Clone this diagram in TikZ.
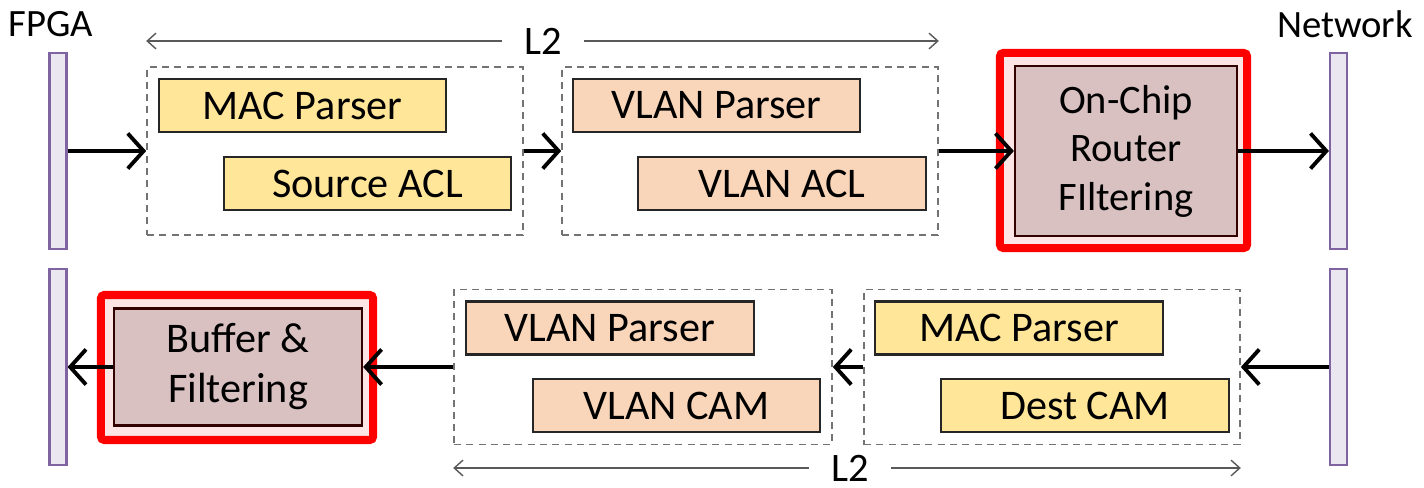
\documentclass[tikz,border=0pt]{standalone}
\usepackage{fontspec}
\setmainfont{Carlito}
\usetikzlibrary{arrows.meta}

\definecolor{macyellow}{HTML}{FFE699}
\definecolor{vlanpeach}{HTML}{F9D6BA}
\definecolor{filterrose}{HTML}{D9C1C1}
\definecolor{filterpink}{HTML}{FDE5E5}
\definecolor{portfill}{HTML}{EBE7F1}
\definecolor{portline}{HTML}{8064A2}

\begin{document}
\begin{tikzpicture}[x=0.01cm, y=-0.01cm,
    port/.style={draw=portline, fill=portfill, line width=0.6pt, minimum width=0.17cm, minimum height=1.95cm, inner sep=0pt},
    stage/.style={draw=black!85, line width=0.6pt, minimum width=2.87cm, minimum height=0.53cm, inner sep=0pt, font=\fontsize{12}{14}\selectfont},
    group/.style={draw=black!55, dash pattern=on 2pt off 1.5pt, line width=0.4pt, minimum width=3.76cm, minimum height=1.68cm, inner sep=0pt},
    guard/.style={draw=red, fill=filterpink, line width=2.3pt, rounded corners=1pt, inner sep=0pt},
    filter/.style={draw=black!80!red, fill=filterrose, line width=0.6pt, align=center, inner sep=0pt},
    flow/.style={-{Straight Barb[length=4.5pt, width=10pt]}, line width=1.1pt},
    span/.style={-{Straight Barb[length=2.5pt, width=4.5pt]}, draw=black!65, line width=0.4pt},
    every node/.style={font=\fontsize{11}{13}\selectfont}]
    \useasboundingbox (0,0) rectangle (1424,488);

    % upper path: FPGA to network
    \node (fpgalabel) at (51,24) {FPGA};
    \node (netlabel) at (1345,24) {Network};
    \node[port] (fpgain) at (58,151) {};
    \node[port] (netout) at (1338.5,151) {};

    \node[group] (srcgrp) at (335,151) {};
    \node[group] (vlangrp) at (750,151) {};
    \node[stage, fill=macyellow] (macparse) at (302.5,105.5) {MAC Parser};
    \node[stage, fill=macyellow] (srcacl) at (367.5,183.5) {Source ACL};
    \node[stage, fill=vlanpeach] (vlanparse) at (716.5,105.5) {VLAN Parser};
    \node[stage, fill=vlanpeach] (vlanacl) at (782,183.5) {VLAN ACL};

    \node[guard, minimum width=2.47cm, minimum height=1.95cm] (routerguard) at (1123.5,150.5) {};
    \node[filter, minimum width=2.22cm, minimum height=1.70cm, font=\fontsize{11.5}{13.8}\selectfont] (router) at (1126,151) {On-Chip\\Router\\FIltering};

    \node[font=\fontsize{11.5}{13}\selectfont, inner xsep=6pt, inner ysep=0pt] (topspan) at (543,41) {L2};
    \draw[span] (topspan) -- (srcgrp.west |- topspan);
    \draw[span] (topspan) -- (vlangrp.east |- topspan);

    \draw[flow] (fpgain) -- (srcgrp);
    \draw[flow] (srcgrp) -- (vlangrp);
    \draw[flow] (vlangrp) -- (router);
    \draw[flow] (router) -- (netout);

    % lower path: network back to FPGA
    \node[port] (fpgaout) at (58,367) {};
    \node[port] (netin) at (1338.5,367) {};

    \node[guard, minimum width=2.72cm, minimum height=1.45cm] (bufguard) at (237,367.5) {};
    \node[filter, minimum width=2.48cm, minimum height=1.17cm, font=\fontsize{12}{14.2}\selectfont] (buffer) at (238,367) {Buffer \&\\Filtering};

    \node[group, minimum width=3.78cm, minimum height=1.55cm] (vlancamgrp) at (643,367) {};
    \node[group, minimum height=1.55cm] (destgrp) at (1052,367) {};
    \node[stage, fill=vlanpeach] (vlanparse2) at (610,328) {VLAN Parser};
    \node[stage, fill=vlanpeach] (vlancam) at (676.5,405.5) {VLAN CAM};
    \node[stage, fill=macyellow] (macparse2) at (1019,328) {MAC Parser};
    \node[stage, fill=macyellow] (destcam) at (1085,405.5) {Dest CAM};

    \node[font=\fontsize{11.5}{13}\selectfont, inner xsep=6pt, inner ysep=0pt] (botspan) at (850,468) {L2};
    \draw[span] (botspan) -- (vlancamgrp.west |- botspan);
    \draw[span] (botspan) -- (destgrp.east |- botspan);

    \draw[flow] (netin) -- (destgrp);
    \draw[flow] (destgrp) -- (vlancamgrp);
    \draw[flow] (vlancamgrp) -- (buffer);
    \draw[flow] (buffer) -- (fpgaout);
\end{tikzpicture}
\end{document}
